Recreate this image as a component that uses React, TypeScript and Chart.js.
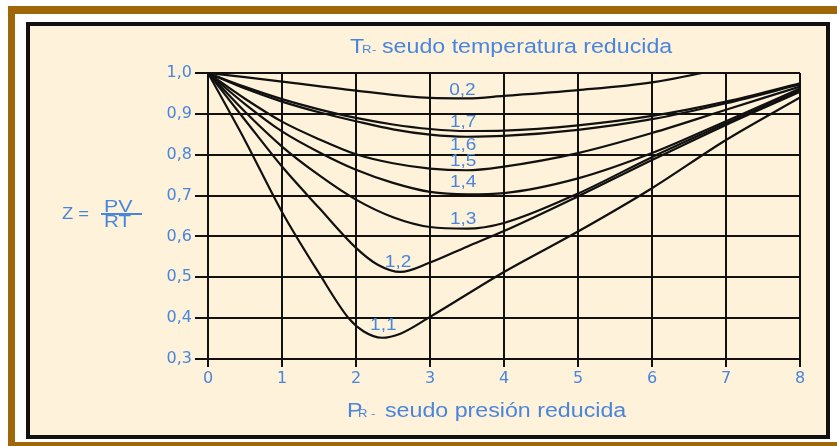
import { useEffect, useRef } from 'react';
import { Chart, registerables } from 'chart.js';

Chart.register(...registerables);

// ---- data ----
const xTickLabels = ['0', '1', '2', '3', '4', '5', '6', '7', '8'];
const yTickLabels = ['0,3', '0,4', '0,5', '0,6', '0,7', '0,8', '0,9', '1,0'];

const trLabels = ['0,2', '1,7', '1,6', '1,5', '1,4', '1,3', '1,2', '1,1'];

const pr02 = [0, 0.5, 1, 2, 3, 3.5, 4, 5, 6, 7, 8];
const z02 = [1.0, 0.99, 0.979, 0.957, 0.939, 0.938, 0.944, 0.958, 0.977, 1.012, 1.05];

const prStd = [0, 0.5, 1, 1.5, 2, 2.5, 3, 3.5, 4, 5, 6, 7, 8];
const z17 = [1.0, 0.966, 0.936, 0.911, 0.89, 0.874, 0.863, 0.858, 0.859, 0.872, 0.895, 0.93, 0.975];
const z16 = [1.0, 0.962, 0.93, 0.904, 0.882, 0.862, 0.849, 0.844, 0.846, 0.861, 0.887, 0.926, 0.972];
const z15 = [1.0, 0.937, 0.881, 0.838, 0.801, 0.779, 0.766, 0.762, 0.771, 0.804, 0.853, 0.91, 0.967];
const z14 = [1.0, 0.924, 0.857, 0.806, 0.763, 0.731, 0.709, 0.703, 0.706, 0.742, 0.804, 0.882, 0.962];
const z13 = [1.0, 0.905, 0.82, 0.75, 0.69, 0.647, 0.623, 0.619, 0.633, 0.705, 0.794, 0.877, 0.958];

const pr12 = [0, 0.5, 1, 1.5, 2, 2.3, 2.6, 3, 3.5, 4, 5, 6, 7, 8];
const z12 = [1.0, 0.885, 0.771, 0.67, 0.572, 0.53, 0.513, 0.536, 0.575, 0.613, 0.698, 0.787, 0.873, 0.954];

const pr11 = [0, 0.5, 1, 1.5, 1.9, 2.1, 2.35, 2.6, 3, 4, 5, 6, 7, 8];
const z11 = [1.0, 0.835, 0.66, 0.51, 0.4, 0.368, 0.352, 0.362, 0.403, 0.513, 0.612, 0.718, 0.836, 0.94];

// label anchors (data units: Pr, Z at text baseline)
const labelPr = [3.26, 3.27, 3.27, 3.27, 3.27, 3.27, 2.39, 2.19];
const labelZ = [0.947, 0.869, 0.812, 0.772, 0.722, 0.631, 0.526, 0.372];

const seriesX = [pr02, prStd, prStd, prStd, prStd, prStd, pr12, pr11];
const seriesZ = [z02, z17, z16, z15, z14, z13, z12, z11];

// ---- styles ----
const BLUE = '#4a85dc';
const BROWN = '#a0670a';
const CREAM = '#fef3da';
const SX = 1.19;

function stretchText(ctx: CanvasRenderingContext2D, text: string, x: number, y: number, font: string, sx = SX, spacing = '0px') {
  ctx.save();
  ctx.translate(x, y);
  ctx.scale(sx, 1);
  ctx.font = font;
  (ctx as any).letterSpacing = spacing;
  ctx.textAlign = 'left';
  ctx.textBaseline = 'alphabetic';
  ctx.fillStyle = BLUE;
  ctx.fillText(text, 0, 0);
  ctx.restore();
}

const framePlugin = {
  id: 'frame',
  beforeDraw(chart: any) {
    const ctx: CanvasRenderingContext2D = chart.ctx;
    ctx.save();
    ctx.fillStyle = '#ffffff';
    ctx.fillRect(0, 0, chart.width, chart.height);
    ctx.fillStyle = BROWN;
    ctx.fillRect(8, 6, 829, 8);
    ctx.fillRect(8, 6, 7, 440);
    ctx.fillRect(8, 442, 829, 4);
    ctx.fillStyle = CREAM;
    ctx.fillRect(28, 24, 800, 413);
    ctx.strokeStyle = '#111';
    ctx.lineWidth = 4;
    ctx.strokeRect(28, 24, 800, 413);
    ctx.restore();
  },
  afterDraw(chart: any) {
    const ctx: CanvasRenderingContext2D = chart.ctx;
    const xs = chart.scales.x;
    const ys = chart.scales.y;
    // curve labels
    trLabels.forEach((t, i) => {
      stretchText(ctx, t, xs.getPixelForValue(labelPr[i]), ys.getPixelForValue(labelZ[i]), '16px "Liberation Sans", Arial, sans-serif');
    });
    // top title
    const big = '19.5px "Liberation Sans", Arial, sans-serif';
    const small = '11px "Liberation Sans", Arial, sans-serif';
    stretchText(ctx, 'T', 350, 53, big);
    stretchText(ctx, 'R', 362, 53, small);
    stretchText(ctx, '-', 372, 53, small);
    stretchText(ctx, 'seudo temperatura reducida', 382, 53, big);
    // bottom title
    stretchText(ctx, 'P', 347, 417, big);
    stretchText(ctx, 'R', 358, 417, small);
    stretchText(ctx, '-', 371, 417, small);
    stretchText(ctx, 'seudo presión reducida', 385, 417, big);
    // Z = PV / RT
    const zf = '16px "Liberation Sans", Arial, sans-serif';
    stretchText(ctx, 'Z =', 62, 219, zf, 1.15);
    stretchText(ctx, 'PV', 104, 212, '16.5px "Liberation Sans", Arial, sans-serif', 1.3);
    stretchText(ctx, 'RT', 104, 227, '16.5px "Liberation Sans", Arial, sans-serif', 1.25);
    ctx.save();
    ctx.strokeStyle = BLUE;
    ctx.lineWidth = 2;
    ctx.beginPath();
    ctx.moveTo(101, 214);
    ctx.lineTo(142, 214);
    ctx.stroke();
    ctx.restore();
  },
};

export default function App() {
  const ref = useRef<HTMLCanvasElement>(null);
  useEffect(() => {
    const datasets = seriesZ.map((zs, i) => ({
      label: trLabels[i],
      data: zs.map((z, j) => ({ x: seriesX[i][j], y: z })),
      borderColor: '#111',
      borderWidth: 2.2,
      pointRadius: 0,
      fill: false,
      cubicInterpolationMode: 'monotone' as const,
    }));
    const chart = new Chart(ref.current!, {
      type: 'line',
      data: { datasets },
      plugins: [framePlugin],
      options: {
        animation: false,
        responsive: false,
        devicePixelRatio: 1,
        events: [],
        layout: { padding: { left: 0, right: 37, top: 73, bottom: 0 } },
        plugins: { legend: { display: false }, tooltip: { enabled: false } },
        scales: {
          x: {
            type: 'linear',
            min: 0,
            max: 8,
            afterFit: (s: any) => { s.height = 87; },
            ticks: {
              stepSize: 1,
              color: BLUE,
              padding: 2,
              maxRotation: 0,
              font: { family: '"DejaVu Sans", sans-serif', size: 16 },
              callback: (_v: any, i: number) => xTickLabels[i],
            },
            grid: { color: '#111', lineWidth: 2, tickLength: 8, tickColor: '#111' },
            border: { color: '#111', width: 2 },
          },
          y: {
            type: 'linear',
            min: 0.3,
            max: 1.0,
            afterFit: (s: any) => { s.width = 208; },
            ticks: {
              stepSize: 0.1,
              color: BLUE,
              padding: 3,
              font: { family: '"DejaVu Sans", sans-serif', size: 16 },
              callback: (_v: any, i: number) => yTickLabels[i],
            },
            grid: { color: '#111', lineWidth: 2, tickLength: 13, tickColor: '#111' },
            border: { color: '#111', width: 2 },
          },
        },
      },
    } as any);
    return () => chart.destroy();
  }, []);
  return (
    <canvas
      ref={ref}
      width={837}
      height={446}
      style={{ position: 'absolute', left: 0, top: 0, width: 837, height: 446 }}
    />
  );
}
